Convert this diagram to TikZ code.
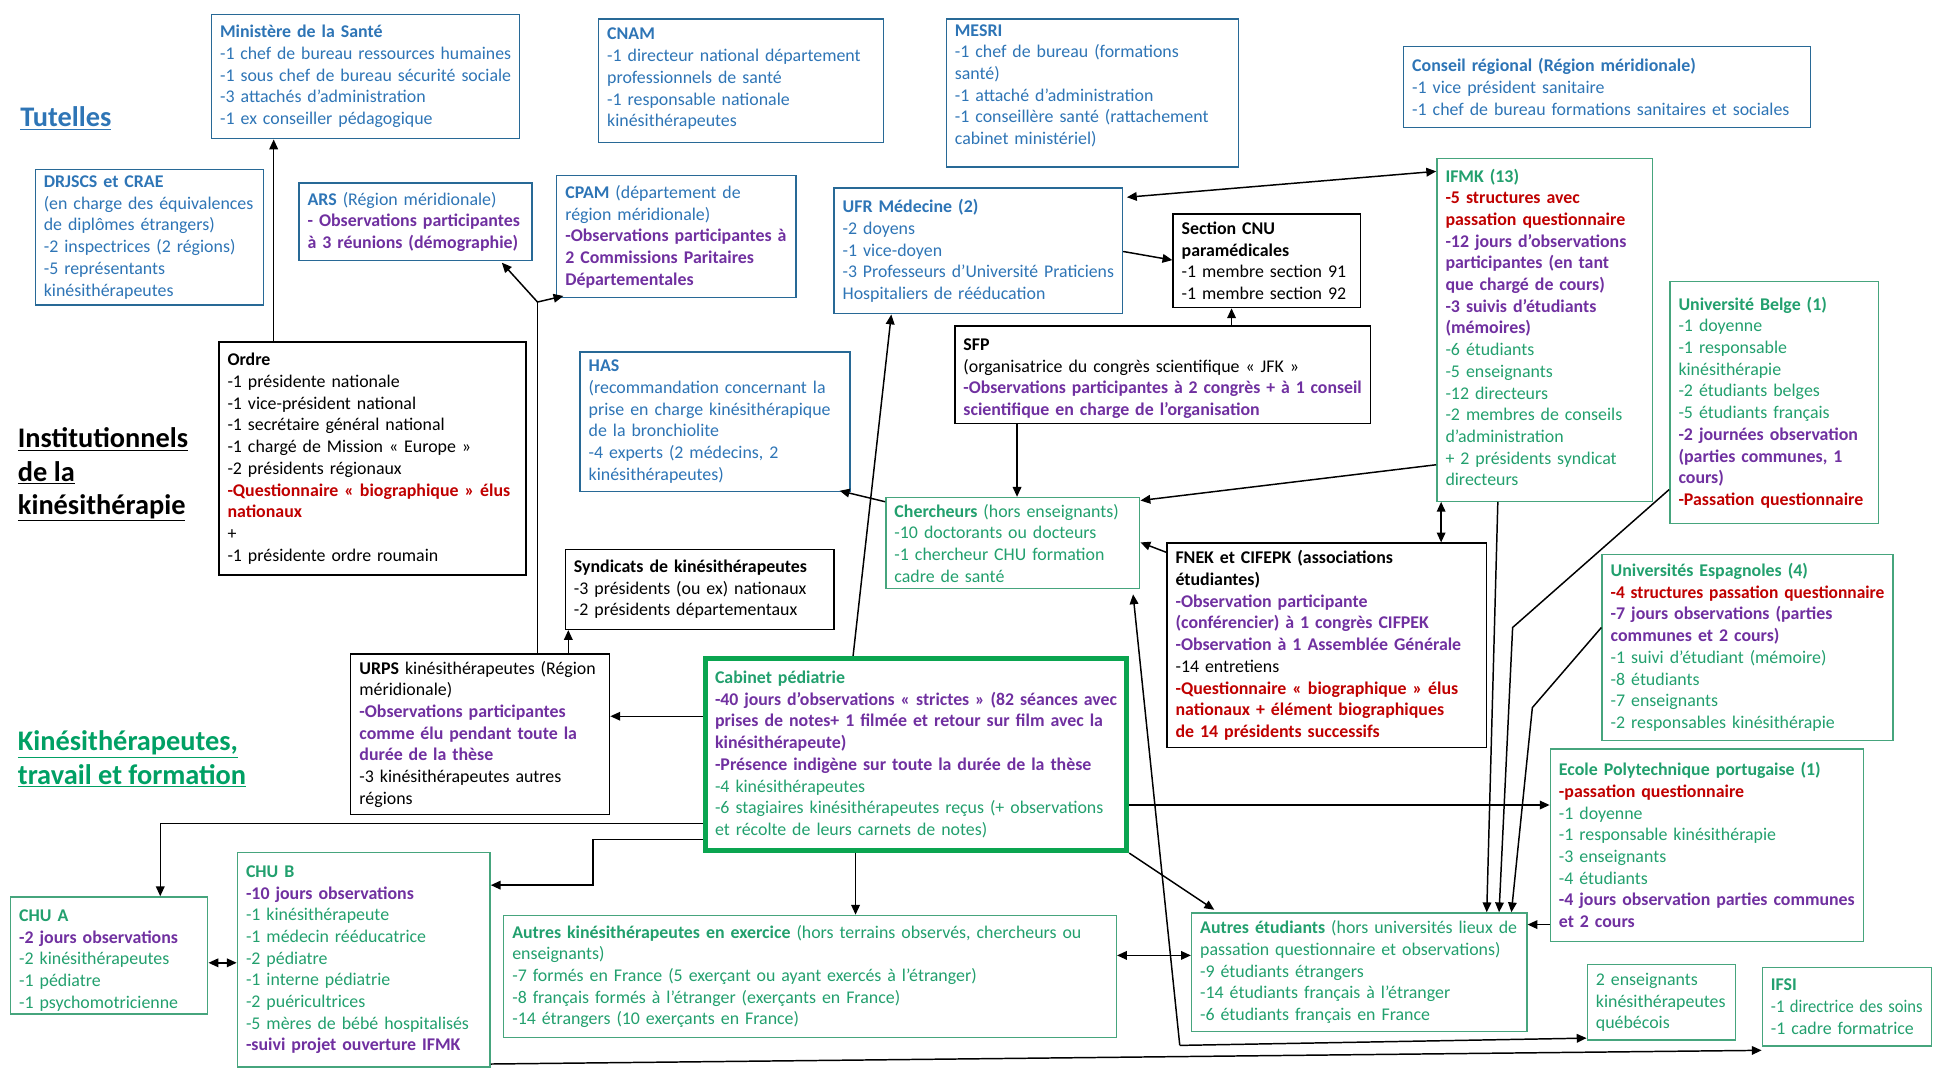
\documentclass[tikz,border=0pt]{standalone}
\usepackage{fontspec}
\usepackage{graphicx}
\setmainfont{Carlito}
\usetikzlibrary{arrows.meta}
\definecolor{cblue}{RGB}{46,117,182}
\definecolor{cbluebd}{RGB}{40,105,150}
\definecolor{cgreen}{RGB}{34,160,110}
\definecolor{cgreenbd}{RGB}{70,165,125}
\definecolor{cabgreen}{RGB}{10,165,80}
\definecolor{ctgreen}{RGB}{0,160,100}
\definecolor{cpurple}{RGB}{112,48,160}
\definecolor{cred}{RGB}{192,0,0}
\newcommand{\fs}{\fontsize{14.5}{17.6}\selectfont\hyphenpenalty=10000\exhyphenpenalty=10000}
\newcommand{\lbl}{\fontsize{23}{27}\selectfont\bfseries}
\newcommand{\pu}[1]{{\color{cpurple}\bfseries #1}}
\newcommand{\rd}[1]{{\color{cred}\bfseries #1}}
\newsavebox\flbox
\newcommand{\fl}[1]{\sbox\flbox{#1}\ifdim\wd\flbox>\hsize\resizebox{\hsize}{\height}{\usebox\flbox}\else\usebox\flbox\fi}
\tikzset{
  bx/.style={draw, anchor=north west, align=left, inner xsep=7pt, inner ysep=1pt, line width=1.1pt, font=\fs},
  bluebx/.style={bx, draw=cbluebd, text=cblue},
  greenbx/.style={bx, draw=cgreenbd, text=cgreen},
  blackbx/.style={bx, draw=black, text=black},
  tip/.tip={Triangle[length=8pt,width=7pt]},
  arr/.style={-tip, line width=1.2pt},
  darr/.style={tip-tip, line width=1.2pt},
  plain/.style={line width=1.2pt}
}
\begin{document}
\begin{tikzpicture}[x=1pt,y=-1pt]
\useasboundingbox (0,0) rectangle (1568,866);
\fill[white] (0,0) rectangle (1568,866);

% section labels
\node[anchor=west, font=\lbl, text=cblue] (tut) at (13,96) {\underline{Tutelles}};
\node[anchor=west, align=left, font=\lbl, text=black] (inst) at (11,385) {\underline{Institutionnels}\\\underline{de la}\\\underline{kinésithérapie}};
\node[anchor=west, align=left, font=\lbl, text=ctgreen] (kine) at (11,615.5) {\underline{Kinésithérapeutes,}\\\underline{travail et formation}};

% blue boxes
\node[bluebx, text width=236pt, minimum height=101pt] (min) at (171,11) {\fl{\textbf{Ministère de la Santé}}\\
\fl{-1 chef de bureau ressources humaines}\\
\fl{-1 sous chef de bureau sécurité sociale}\\
\fl{-3 attachés d’administration}\\
\fl{-1 ex conseiller pédagogique}};

\node[bluebx, text width=217pt, minimum height=100pt] (cnam) at (485,15) {\textbf{CNAM}\\
\fl{-1 directeur national département}\\
\fl{professionnels de santé}\\
\fl{-1 responsable nationale}\\
kinésithérapeutes\par\vspace{3pt}};

\node[bluebx, text width=223pt, minimum height=120pt] (mesri) at (767,15) {\textbf{MESRI}\\
\fl{-1 chef de bureau (formations}\\
santé)\\
\fl{-1 attaché d’administration}\\
\fl{-1 conseillère santé (rattachement}\\
\fl{cabinet ministériel)}\par\vspace{12pt}};

\node[bluebx, text width=316pt, minimum height=66pt] (conseil) at (1138,37) {\fl{\textbf{Conseil régional (Région méridionale)}}\\
\fl{-1 vice président sanitaire}\\
\fl{-1 chef de bureau formations sanitaires et sociales}};

\node[bluebx, text width=171pt, minimum height=110pt] (drjscs) at (28,137) {\fl{\textbf{DRJSCS et CRAE}}\\
\fl{(en charge des équivalences}\\
\fl{de diplômes étrangers)}\\
\fl{-2 inspectrices (2 régions)}\\
\fl{-5 représentants}\\
\fl{kinésithérapeutes}};

\node[bluebx, text width=175pt, minimum height=63pt] (ars) at (242,148) {\fl{\textbf{ARS} (Région méridionale)}\\
\fl{\pu{- Observations participantes}}\\
\fl{\pu{à 3 réunions (démographie)}}};

\node[bluebx, text width=180pt, minimum height=99pt] (cpam) at (451,142) {\fl{\textbf{CPAM} (département de}\\
\fl{région méridionale)}\\
\fl{\pu{-Observations participantes à}}\\
\fl{\pu{2 Commissions Paritaires}}\\
\fl{\pu{Départementales}}};

\node[bluebx, text width=220pt, minimum height=102pt] (ufr) at (676,152) {\fl{\textbf{UFR Médecine (2)}}\\
-2 doyens\\
-1 vice-doyen\\
\fl{-3 Professeurs d’Université Praticiens}\\
\fl{Hospitaliers de rééducation}};

\node[bluebx, text width=205pt, minimum height=113pt] (has) at (470,285) {\textbf{HAS}\\
\fl{(recommandation concernant la}\\
\fl{prise en charge kinésithérapique}\\
\fl{de la bronchiolite}\\
\fl{-4 experts (2 médecins, 2}\\
\fl{kinésithérapeutes)}};

% black boxes
\node[blackbx, text width=138pt, minimum height=76pt] (cnu) at (951,173) {\fl{\textbf{Section CNU}}\\
\fl{\textbf{paramédicales}}\\
\fl{-1 membre section 91}\\
\fl{-1 membre section 92}};

\node[blackbx, text width=235pt, minimum height=189pt] (ordre) at (177,277) {\textbf{Ordre}\\
\fl{-1 présidente nationale}\\
\fl{-1 vice-président national}\\
\fl{-1 secrétaire général national}\\
\fl{-1 chargé de Mission « Europe »}\\
\fl{-2 présidents régionaux}\\
\fl{\rd{-Questionnaire « biographique » élus}}\\
\rd{nationaux}\\
+\\
\fl{-1 présidente ordre roumain}};

\node[blackbx, text width=323pt, minimum height=79pt] (sfp) at (774,264) {\textbf{SFP}\\
\fl{(organisatrice du congrès scientifique « JFK »}\\
\fl{\pu{-Observations participantes à 2 congrès + à 1 conseil}}\\
\fl{\pu{scientifique en charge de l’organisation}}\par\vspace{-6pt}};

\node[blackbx, text width=204pt, minimum height=65pt] (synd) at (458,445) {\fl{\textbf{Syndicats de kinésithérapeutes}}\\
\fl{-3 présidents (ou ex) nationaux}\\
\fl{-2 présidents départementaux}};

\node[blackbx, text width=245pt, minimum height=166pt] (fnek) at (946,440) {\fl{\textbf{FNEK et CIFEPK (associations}}\\
\textbf{étudiantes)}\\
\fl{\pu{-Observation participante}}\\
\fl{\pu{(conférencier) à 1 congrès CIFPEK}}\\
\fl{\pu{-Observation à 1 Assemblée Générale}}\\
-14 entretiens\\
\fl{\rd{-Questionnaire « biographique » élus}}\\
\fl{\rd{nationaux + élément biographiques}}\\
\fl{\rd{de 14 présidents successifs}}};

\node[blackbx, text width=196pt, minimum height=130pt] (urps) at (284,530) {\fl{\textbf{URPS} kinésithérapeutes (Région}\\
méridionale)\\
\fl{\pu{-Observations participantes}}\\
\fl{\pu{comme élu pendant toute la}}\\
\fl{\pu{durée de la thèse}}\\
\fl{-3 kinésithérapeutes autres}\\
régions};

% green boxes
\node[greenbx, text width=161pt, minimum height=278pt] (ifmk) at (1165,128) {\textbf{IFMK (13)}\\
\fl{\rd{-5 structures avec}}\\
\fl{\rd{passation questionnaire}}\\
\fl{\pu{-12 jours d’observations}}\\
\fl{\pu{participantes (en tant}}\\
\fl{\pu{que chargé de cours)}}\\
\fl{\pu{-3 suivis d’étudiants}}\\
\pu{(mémoires)}\\
-6 étudiants\\
-5 enseignants\\
-12 directeurs\\
\fl{-2 membres de conseils}\\
\fl{d’administration}\\
\fl{+ 2 présidents syndicat}\\
directeurs\par\vspace{4pt}};

\node[greenbx, text width=155pt, minimum height=196pt] (belge) at (1354,228) {\fl{\textbf{Université Belge (1)}}\\
-1 doyenne\\
-1 responsable\\
\fl{kinésithérapie}\\
\fl{-2 étudiants belges}\\
\fl{-5 étudiants français}\\
\fl{\pu{-2 journées observation}}\\
\fl{\pu{(parties communes, 1}}\\
\pu{cours)}\\
\fl{\rd{-Passation questionnaire}}};

\node[greenbx, text width=222pt, minimum height=151pt] (esp) at (1299,449) {\fl{\textbf{Universités Espagnoles (4)}}\\
\fl{\rd{-4 structures passation questionnaire}}\\
\fl{\pu{-7 jours observations (parties}}\\
\fl{\pu{communes et 2 cours)}}\\
\fl{-1 suivi d’étudiant (mémoire)}\\
-8 étudiants\\
-7 enseignants\\
\fl{-2 responsables kinésithérapie}};

\node[greenbx, text width=240pt, minimum height=156pt] (ecole) at (1257,607) {\fl{\textbf{Ecole Polytechnique portugaise (1)}}\\
\fl{\rd{-passation questionnaire}}\\
-1 doyenne\\
\fl{-1 responsable kinésithérapie}\\
-3 enseignants\\
-4 étudiants\\
\fl{\pu{-4 jours observation parties communes}}\\
\pu{et 2 cours}};

\node[greenbx, text width=106pt, minimum height=61pt] (quebec) at (1287,782) {\fl{2 enseignants}\\
\fl{kinésithérapeutes}\\
\fl{québécois}};

\node[greenbx, text width=123pt, minimum height=64pt] (ifsi) at (1429,784) {\textbf{IFSI}\\
\fl{-1 directrice des soins}\\
\fl{-1 cadre formatrice}};

\node[greenbx, text width=192pt, minimum height=74pt] (cherch) at (718,403) {\fl{\textbf{Chercheurs} (hors enseignants)}\\
\fl{-10 doctorants ou docteurs}\\
\fl{-1 chercheur CHU formation}\\
\fl{cadre de santé}};

\node[greenbx, draw=cabgreen, line width=4pt, text width=326pt, inner xsep=8pt, minimum height=156pt] (cab) at (570,532) {\fl{\textbf{Cabinet pédiatrie}}\\
\fl{\pu{-40 jours d’observations « strictes » (82 séances avec}}\\
\fl{\pu{prises de notes+ 1 filmée et retour sur film avec la}}\\
\fl{\pu{kinésithérapeute)}}\\
\fl{\pu{-Présence indigène sur toute la durée de la thèse}}\\
\fl{-4 kinésithérapeutes}\\
\fl{-6 stagiaires kinésithérapeutes reçus (+ observations}\\
\fl{et récolte de leurs carnets de notes)}};

\node[greenbx, text width=146pt, minimum height=95pt] (chua) at (8,727) {\textbf{CHU A}\\
\fl{\pu{-2 jours observations}}\\
\fl{-2 kinésithérapeutes}\\
-1 pédiatre\\
\fl{-1 psychomotricienne}\par\vspace{-8pt}};

\node[greenbx, text width=191pt, minimum height=174pt] (chub) at (192,691) {\textbf{CHU B}\\
\fl{\pu{-10 jours observations}}\\
\fl{-1 kinésithérapeute}\\
\fl{-1 médecin rééducatrice}\\
-2 pédiatre\\
\fl{-1 interne pédiatrie}\\
\fl{-2 puéricultrices}\\
\fl{-5 mères de bébé hospitalisés}\\
\fl{\pu{-suivi projet ouverture IFMK}}};

\node[greenbx, text width=483pt, minimum height=99pt] (akine) at (408,742) {\fl{\textbf{Autres kinésithérapeutes en exercice} (hors terrains observés, chercheurs ou}\\
enseignants)\\
\fl{-7 formés en France (5 exerçant ou ayant exercés à l’étranger)}\\
\fl{-8 français formés à l’étranger (exerçants en France)}\\
\fl{-14 étrangers (10 exerçants en France)}};

\node[greenbx, text width=258pt, minimum height=96pt] (aetud) at (966,740) {\fl{\textbf{Autres étudiants} (hors universités lieux de}\\
\fl{passation questionnaire et observations)}\\
\fl{-9 étudiants étrangers}\\
\fl{-14 étudiants français à l’étranger}\\
\fl{-6 étudiants français en France}};

% connectors
\draw[arr] ([xshift=45pt]ordre.north west) -- ([xshift=45pt]ordre.north west |- min.south);
\coordinate (ub) at (436,245);
\draw[plain] ([xshift=152pt]urps.north west) -- (ub);
\draw[arr] (ub) -- ([xshift=-25pt,yshift=-1pt]ars.south east);
\draw[arr] (ub) -- ([xshift=6pt,yshift=2pt]cpam.south west);
\draw[arr] ([xshift=177pt]urps.north west) -- ([xshift=177pt]urps.north west |- synd.south);
\draw[arr] ([yshift=-49pt]cab.north west) -- ([yshift=-49pt]cab.north west -| urps.east);
\draw[arr] ([xshift=122pt]cab.north west) -- ([xshift=47pt]ufr.south west);
\draw[arr] ([yshift=-4pt]cherch.north west) -- ([xshift=-9pt,yshift=1pt]has.south east);
\draw[arr] ([xshift=51pt]sfp.south west) -- ([xshift=51pt]sfp.south west |- cherch.north);
\draw[arr] ([xshift=225pt]sfp.north west) -- ([xshift=225pt]sfp.north west |- cnu.south);
\draw[arr] ([yshift=-52pt]ufr.north east) -- ([yshift=-38pt]cnu.north west);
\draw[darr] ([xshift=3pt,yshift=-8pt]ufr.north east) -- ([yshift=-11pt]ifmk.north west);
\draw[arr] ([yshift=-249pt]ifmk.north west) -- ([yshift=-3pt]cherch.north east);
\draw[darr] ([xshift=4pt]ifmk.south west) -- ([xshift=4pt]ifmk.south west |- fnek.north);
\draw[arr] ([yshift=-8pt]fnek.north west) -- ([yshift=-37pt]cherch.north east);
\coordinate (qc) at (957,848);
\draw[arr] (qc) -- ([xshift=-6pt,yshift=-4pt]cherch.south east);
\draw[arr] (qc) -- ([yshift=2pt]quebec.south west);
\draw[arr] ([yshift=3pt]chub.south east) -- ([yshift=-68pt]ifsi.north west);
\draw[arr] ([yshift=-136pt]cab.north west) -| ([xshift=122pt]chua.north west);
\draw[arr] ([yshift=-149pt]cab.north west) -- ++(-89,0) |- ([yshift=-27pt]chub.north east);
\draw[darr] ([yshift=-54pt]chua.north east) -- ([yshift=-54pt]chua.north east -| chub.west);
\draw[arr] ([xshift=124pt]cab.south west) -- ([xshift=124pt]cab.south west |- akine.north);
\draw[darr] ([yshift=-33pt]akine.north east) -- ([yshift=-33pt]akine.north east -| aetud.west);
\draw[arr] ([yshift=-121pt]cab.north east) -- ([yshift=-121pt]cab.north east -| ecole.west);
\draw[arr] ([yshift=-143pt]ecole.north west) -- ([yshift=-143pt]ecole.north west -| aetud.east);
\draw[arr] ([xshift=50pt]ifmk.south west) -- ([xshift=240pt]aetud.north west);
\coordinate (bk) at (1227,509);
\draw[arr] ([yshift=28pt]belge.south west) -- (bk) -- ([xshift=250pt]aetud.north west);
\coordinate (ek) at (1243,574);
\draw[arr] ([yshift=-60pt]esp.north west) -- (ek) -- ([xshift=260pt]aetud.north west);
\draw[arr] (cab.south east) -- ([xshift=19pt,yshift=2pt]aetud.north west);
\end{tikzpicture}
\end{document}
